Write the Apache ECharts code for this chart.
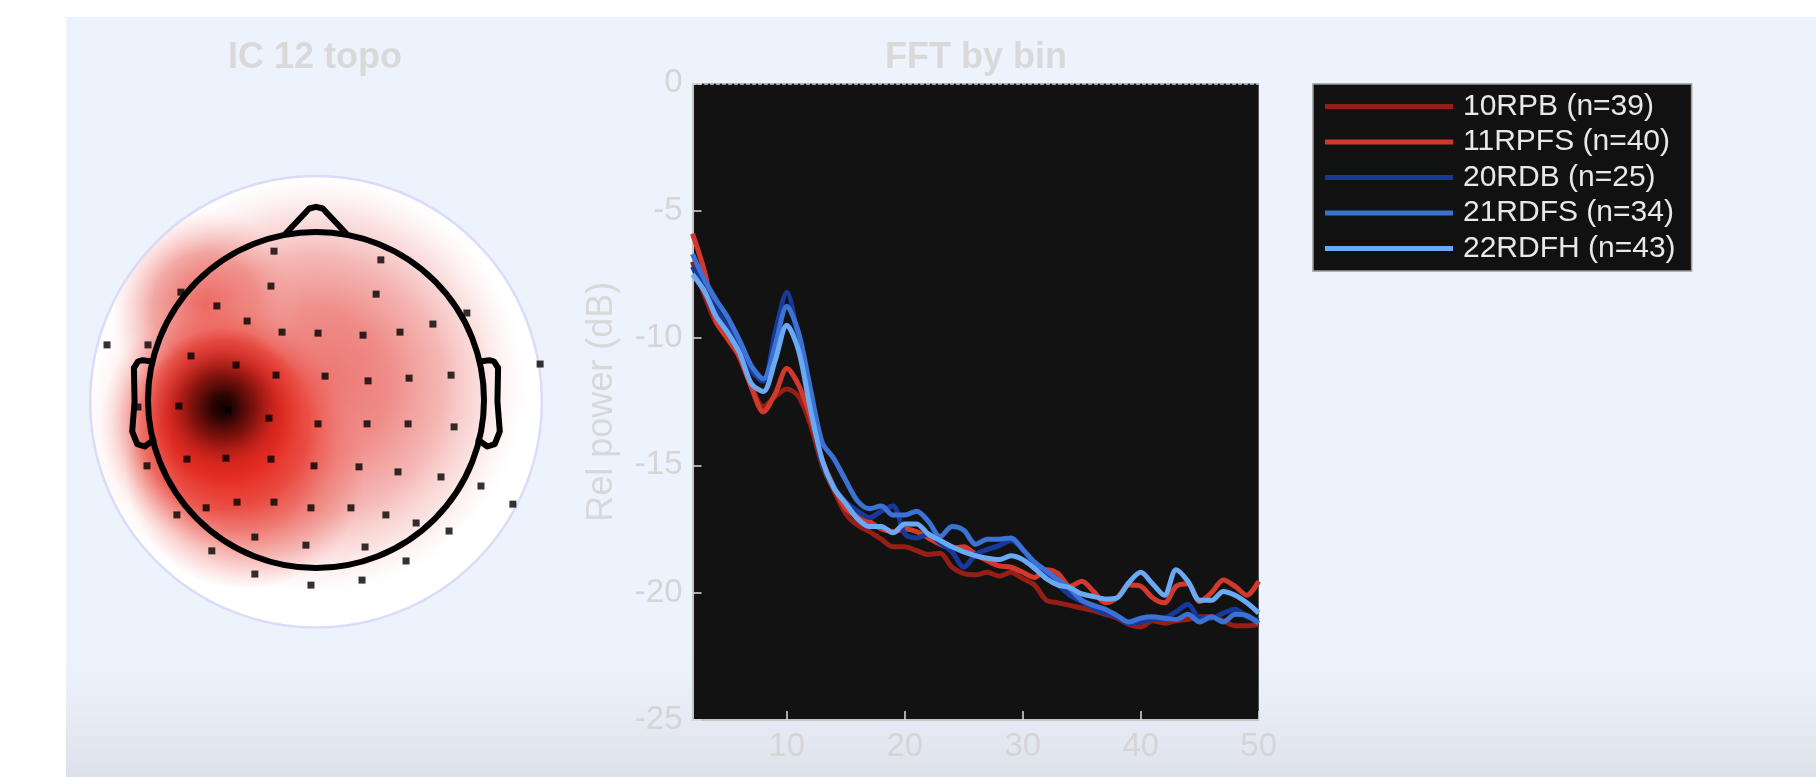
<!DOCTYPE html>
<html><head><meta charset="utf-8">
<script src="https://cdn.jsdelivr.net/npm/echarts@6/dist/echarts.min.js"></script>
<style>html,body{margin:0;padding:0;background:#fff}#c{width:1816px;height:777px}</style>
</head><body><div id="c"></div>
<script>
// ---------------- FFT data (Hz, dB) ----------------
const freqs = [2,3,4,5,6,7,8,9,10,11,12,13,14,15,16,17,18,19,20,21,22,23,24,25,26,27,28,29,30,31,32,33,34,35,36,37,38,39,40,41,42,43,44,45,46,47,48,49,50];
const s10RPB  = [-7.0,-8.3,-9.4,-9.9,-10.8,-11.9,-12.7,-12.3,-12.0,-12.3,-13.4,-15.0,-16.0,-16.9,-17.35,-17.6,-17.9,-18.2,-18.2,-18.35,-18.5,-18.45,-19.0,-19.25,-19.3,-19.2,-19.35,-19.2,-19.45,-19.7,-20.3,-20.4,-20.5,-20.6,-20.7,-20.85,-21.0,-21.25,-21.35,-21.1,-21.2,-21.1,-21.05,-20.95,-20.95,-21.1,-21.3,-21.3,-21.25];
const s11RPFS = [-5.9,-7.35,-9.35,-10.05,-10.75,-11.95,-12.9,-12.2,-11.2,-11.85,-13.1,-14.8,-15.85,-16.7,-17.0,-17.2,-17.5,-17.6,-17.5,-17.6,-17.85,-18.1,-18.25,-18.2,-18.5,-18.75,-18.95,-19.0,-19.2,-19.4,-19.1,-19.25,-19.75,-19.55,-19.95,-20.4,-20.2,-19.7,-19.75,-20.2,-20.4,-19.75,-19.65,-20.35,-20.0,-19.5,-19.75,-20.1,-19.55];
const s20RDB  = [-7.2,-8.1,-8.9,-9.6,-10.4,-11.3,-11.7,-9.8,-8.2,-10.2,-12.7,-14.9,-15.85,-16.45,-16.8,-17.05,-16.8,-16.6,-17.7,-17.85,-17.7,-18.05,-18.4,-19.0,-18.5,-18.3,-18.15,-17.95,-18.3,-18.9,-19.35,-19.7,-20.1,-20.35,-20.6,-20.8,-20.95,-21.2,-21.15,-21.05,-21.0,-20.75,-20.45,-21.0,-21.0,-20.8,-20.65,-20.95,-21.1];
const s21RDFS = [-6.7,-7.7,-8.5,-9.2,-10.1,-11.1,-11.6,-10.3,-8.75,-9.8,-12.0,-14.1,-14.75,-15.6,-16.4,-16.7,-16.6,-16.95,-16.95,-16.8,-17.2,-17.8,-17.4,-17.55,-18.1,-17.9,-17.9,-17.85,-18.3,-18.8,-19.15,-19.5,-19.85,-20.3,-20.5,-20.65,-20.9,-21.15,-21.0,-20.95,-21.0,-21.05,-20.85,-21.15,-20.95,-21.15,-20.85,-20.9,-21.2];
const s22RDFH = [-7.5,-8.15,-9.15,-9.8,-10.6,-11.8,-12.1,-10.9,-9.5,-10.5,-12.8,-14.8,-15.9,-16.5,-17.1,-17.4,-17.4,-17.65,-17.3,-17.3,-17.7,-17.95,-18.2,-18.4,-18.55,-18.65,-18.7,-18.55,-18.7,-19.05,-19.45,-19.7,-19.8,-20.05,-20.15,-20.25,-20.2,-19.6,-19.2,-19.65,-20.1,-19.1,-19.55,-20.3,-20.3,-19.95,-20.1,-20.4,-20.8];
const seriesNames = ['10RPB (n=39)','11RPFS (n=40)','20RDB (n=25)','21RDFS (n=34)','22RDFH (n=43)'];
const xTicks = [10,20,30,40,50];
const yTicks = [-25,-20,-15,-10,-5,0];

// ---------------- Topo data (head units, head radius 0.5) ----------------
const elecX = [-0.125,-0.134,-0.295,-0.205,-0.101,0.006,-0.402,-0.622,-0.500,-0.372,-0.238,-0.119,-0.408,0.193,0.179,0.140,0.250,0.348,0.449,0.027,0.155,0.277,0.402,0.667,-0.530,-0.262,-0.140,0.006,-0.503,-0.384,-0.268,-0.134,-0.006,-0.327,-0.414,-0.235,-0.125,-0.015,-0.182,-0.310,-0.030,-0.182,-0.015,0.152,0.274,0.411,0.128,0.244,0.372,0.491,0.586,0.104,0.208,0.298,0.396,0.146,0.268,0.137];
const elecY = [0.443,0.339,0.280,0.235,0.202,0.199,0.321,0.164,0.164,0.131,0.104,0.074,-0.018,0.417,0.315,0.193,0.202,0.226,0.259,0.071,0.057,0.065,0.074,0.107,-0.021,-0.030,-0.054,-0.071,-0.196,-0.176,-0.173,-0.176,-0.196,-0.321,-0.342,-0.304,-0.304,-0.321,-0.408,-0.449,-0.432,-0.518,-0.551,-0.071,-0.071,-0.080,-0.199,-0.214,-0.229,-0.256,-0.310,-0.321,-0.342,-0.366,-0.390,-0.4375,-0.479,-0.536];
const headR = 0.5;
const discC = [0, -0.005];
const discR = 0.675;
const noseX = [0.09,0.02,0,-0.02,-0.09];
const noseY = [0.4954,0.570,0.575,0.570,0.4954];
const earX = [0.492,0.510,0.518,0.5299,0.5419,0.54,0.547,0.532,0.510,0.484];
const earY = [0.1155,0.1175,0.1183,0.1146,0.0955,-0.0055,-0.0932,-0.1313,-0.1384,-0.1199];
// field components of the interpolated map (centre, extent)
const blobU = [-0.003,-0.330,-0.211,-0.271,-0.277];
const blobV = [0.045,0.280,-0.208,-0.074,-0.021];
const blobR = [0.64,0.285,0.357,0.455,0.238];

// ---------------- styles ----------------
const FONT = '"Liberation Sans", Arial, Helvetica, sans-serif';
const PANEL = '#edf3fd';
const lineColors = ['#951f17','#d2392c','#17399a','#3b72d4','#6aaaf5'];
const blobStops = [
  [[0,'rgba(234,100,94,0.95)'],[0.35,'rgba(237,125,120,0.88)'],[0.6,'rgba(241,160,157,0.75)'],[0.8,'rgba(246,200,198,0.5)'],[0.92,'rgba(251,232,231,0.25)'],[1,'rgba(255,255,255,0)']],
  [[0,'rgba(233,80,72,0.85)'],[0.55,'rgba(236,110,104,0.55)'],[1,'rgba(245,180,175,0)']],
  [[0,'rgba(230,45,35,0.9)'],[0.5,'rgba(232,58,48,0.6)'],[1,'rgba(235,85,75,0)']],
  [[0,'rgba(228,38,28,1)'],[0.35,'rgba(230,45,35,0.97)'],[0.55,'rgba(233,70,60,0.72)'],[0.7,'rgba(238,115,107,0.32)'],[0.82,'rgba(245,170,165,0.08)'],[1,'rgba(250,210,205,0)']],
  [[0,'rgba(20,0,0,1)'],[0.15,'rgba(45,4,3,1)'],[0.4,'rgba(110,14,10,0.85)'],[0.7,'rgba(190,30,24,0.45)'],[1,'rgba(228,40,30,0)']]
];

const chart = echarts.init(document.getElementById('c'), null, {renderer:'canvas', width:1816, height:777});

const allSeries = [s10RPB, s11RPFS, s20RDB, s21RDFS, s22RDFH];
const lineSeries = allSeries.map((vals, k) => ({
  type:'line', name: seriesNames[k], xAxisIndex:1, yAxisIndex:1,
  data: freqs.map((f,i)=>[f, vals[i]]),
  showSymbol:false, symbol:'none', smooth:0.3, color: lineColors[k],
  lineStyle:{width:5, color: lineColors[k]}, z: 3 + k, silent:true, animation:false
}));

const option = {
  backgroundColor:'#ffffff',
  animation:false,
  graphic:[
    {type:'rect', z:-10, silent:true, shape:{x:66,y:17,width:1750,height:760},
     style:{fill:new echarts.graphic.LinearGradient(0,0,0,1,[{offset:0,color:PANEL},{offset:0.84,color:PANEL},{offset:0.9,color:'#e8edf7'},{offset:1,color:'#dde2ea'}])}},
    {type:'text', z:50, x:315, y:58, silent:true, style:{text:'IC 12 topo', align:'center', verticalAlign:'middle', font:'bold 36px '+FONT, fill:'#d9d9d9'}},
    {type:'text', z:50, x:976, y:58, silent:true, style:{text:'FFT by bin', align:'center', verticalAlign:'middle', font:'bold 36px '+FONT, fill:'#d9d9d9'}}
  ],
  legend:{
    data: seriesNames, orient:'vertical', left:1313, top:84, icon:'rect',
    itemWidth:128, itemHeight:5, itemGap:0.5, padding:[5,16,5,12],
    backgroundColor:'#111111', borderColor:'#9a9a9a', borderWidth:1.5, borderRadius:0,
    textStyle:{color:'#e8e8e8', fontSize:30, lineHeight:35, fontFamily:FONT, padding:[0,0,0,5]},
    selectedMode:false
  },
  grid:[
    {left:80.8, top:164.8, width:470.4, height:470.4, show:false},
    {left:692.5, top:83.4, width:566.2, height:636.6, show:true, backgroundColor:'#121212', borderWidth:0}
  ],
  xAxis:[
    {gridIndex:0, type:'value', min:-0.7, max:0.7, show:false},
    {gridIndex:1, type:'value', min:2, max:50,
     axisLine:{show:true, onZero:false, lineStyle:{color:'#c4c4c4', width:2}},
     axisTick:{show:true, inside:true, length:9, customValues:xTicks, lineStyle:{color:'#dddddd', width:1.5}},
     axisLabel:{show:true, customValues:xTicks, fontSize:33, color:'#d5d5d5', margin:10, fontFamily:FONT},
     splitLine:{show:false}},
    {gridIndex:1, type:'value', position:'top', min:2, max:50,
     axisLine:{show:true, onZero:false, lineStyle:{color:'#cfcfcf', width:1.5, type:[3,3]}},
     axisTick:{show:false}, axisLabel:{show:false}, splitLine:{show:false}}
  ],
  yAxis:[
    {gridIndex:0, type:'value', min:-0.7, max:0.7, show:false},
    {gridIndex:1, type:'value', min:yTicks[0], max:yTicks[yTicks.length-1], interval:5,
     name:'Rel power (dB)', nameLocation:'middle', nameGap:72,
     nameTextStyle:{fontSize:36, color:'#d8d8d8', fontFamily:FONT},
     axisLine:{show:true, onZero:false, lineStyle:{color:'#c4c4c4', width:2}},
     axisTick:{show:true, inside:true, length:9, lineStyle:{color:'#dddddd', width:1.5}},
     axisLabel:{fontSize:33, color:'#d5d5d5', margin:10, fontFamily:FONT},
     splitLine:{show:false}}
  ],
  series:[
    // white interpolation disc
    {type:'custom', xAxisIndex:0, yAxisIndex:0, z:1, clip:false, silent:true,
     data:[[discC[0], discC[1], discR]],
     renderItem(p, api){
       const c = api.coord([api.value(0), api.value(1)]);
       const r = api.size([api.value(2), 0])[0];
       return {type:'circle', shape:{cx:c[0], cy:c[1], r}, style:{fill:'#ffffff'}};
     }},
    // map field
    {type:'custom', xAxisIndex:0, yAxisIndex:0, z:2, clip:false, silent:true,
     data: blobU.map((u,i)=>[u, blobV[i], blobR[i], i]),
     renderItem(p, api){
       const c = api.coord([api.value(0), api.value(1)]);
       const r = api.size([api.value(2), 0])[0];
       const stops = blobStops[api.value(3)].map(s=>({offset:s[0], color:s[1]}));
       return {type:'circle', shape:{cx:c[0], cy:c[1], r},
               style:{fill:new echarts.graphic.RadialGradient(0.5,0.5,0.5,stops)}};
     }},
    // mask outside disc + rim
    {type:'custom', xAxisIndex:0, yAxisIndex:0, z:3, clip:false, silent:true,
     data:[[discC[0], discC[1], discR]],
     renderItem(p, api){
       const c = api.coord([api.value(0), api.value(1)]);
       const r = api.size([api.value(2), 0])[0];
       return {type:'group', children:[
         {type:'ring', shape:{cx:c[0], cy:c[1], r:r+20, r0:r}, style:{fill:PANEL}},
         {type:'circle', shape:{cx:c[0], cy:c[1], r:r-1}, style:{fill:'none', stroke:'rgba(214,214,248,0.85)', lineWidth:2.5}}
       ]};
     }},
    // head outline, nose, ears
    {type:'custom', xAxisIndex:0, yAxisIndex:0, z:4, clip:false, silent:true,
     data:[[0,0,headR]],
     renderItem(p, api){
       const c = api.coord([api.value(0), api.value(1)]);
       const r = api.size([api.value(2), 0])[0];
       const pts = (xs, ys, sgn) => xs.map((x,i)=>api.coord([sgn*x, ys[i]]));
       const st = () => ({stroke:'#000000', lineWidth:6, fill:'none', lineJoin:'round', lineCap:'round'});
       return {type:'group', children:[
         {type:'polyline', shape:{points:pts(noseX,noseY,1)}, style:st()},
         {type:'polyline', shape:{points:pts(earX,earY,-1)}, style:st()},
         {type:'polyline', shape:{points:pts(earX,earY,1)}, style:st()},
         {type:'circle', shape:{cx:c[0], cy:c[1], r}, style:st()}
       ]};
     }},
    // electrodes
    {type:'scatter', xAxisIndex:0, yAxisIndex:0, z:5, silent:true,
     symbol:'rect', symbolSize:7, itemStyle:{color:'#000000'},
     data: elecX.map((x,i)=>[x, elecY[i]])},
    ...lineSeries
  ]
};
chart.setOption(option);
</script>
</body></html>
